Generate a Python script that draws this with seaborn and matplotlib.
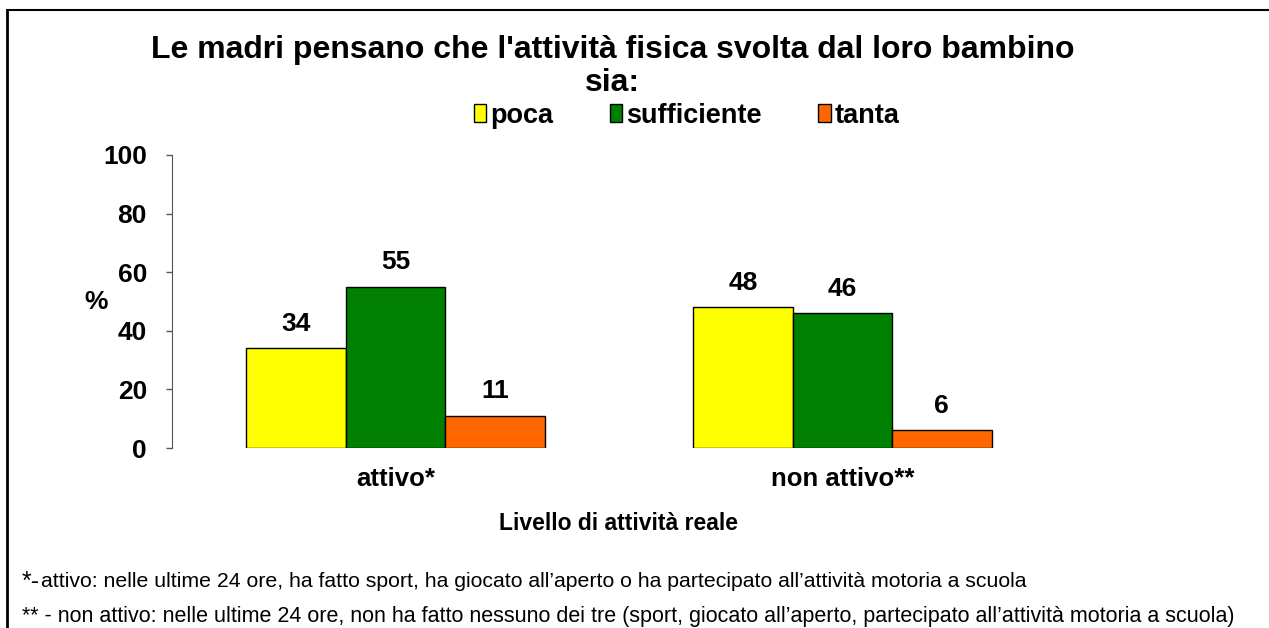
import matplotlib
matplotlib.use('Agg')
import matplotlib.pyplot as plt
import seaborn as sns
import pandas as pd
from matplotlib.lines import Line2D

# Data
livelli = ['attivo*', 'non attivo**']
giudizi = ['poca', 'sufficiente', 'tanta']
poca = [34, 48]
sufficiente = [55, 46]
tanta = [11, 6]
colori = ['#FFFF00', '#008000', '#FF6600']

df = pd.DataFrame({
    'livello': livelli * 3,
    'giudizio': ['poca'] * 2 + ['sufficiente'] * 2 + ['tanta'] * 2,
    'pct': poca + sufficiente + tanta,
})

sns.set_style('white')
plt.rcParams['font.family'] = ['Liberation Sans', 'DejaVu Sans']
plt.rcParams['text.color'] = 'black'
plt.rcParams['axes.labelcolor'] = 'black'
plt.rcParams['xtick.color'] = 'black'
plt.rcParams['ytick.color'] = 'black'

fig = plt.figure(figsize=(12.69, 6.28), dpi=100)
ax = fig.add_axes([0.1355, 0.2866, 0.7045, 0.4666])

sns.barplot(data=df, x='livello', y='pct', hue='giudizio', hue_order=giudizi,
            palette=colori, width=0.667, gap=0, edgecolor='black', linewidth=1,
            saturation=1, ax=ax, legend=False)

for cont in ax.containers:
    ax.bar_label(cont, fmt='%d', padding=9, fontsize=19, fontweight='bold')

ax.set_ylim(0, 100)
ax.set_xlim(-0.5, 1.5)
ax.set_yticks([0, 20, 40, 60, 80, 100])
ax.tick_params(axis='y', labelsize=19, length=4, width=1, color='#555555', direction='out', left=True, pad=14)
ax.tick_params(axis='x', labelsize=18.5, length=0, pad=14)
for lab in ax.get_yticklabels() + ax.get_xticklabels():
    lab.set_fontweight('bold')
sns.despine(ax=ax, bottom=True)
ax.spines['left'].set_color('#555555')

ax.set_ylabel('%', fontsize=19, fontweight='bold', rotation=0, va='center', ha='center')
ax.yaxis.set_label_coords(-0.085, 0.5)
ax.set_xlabel('Livello di attività reale', fontsize=16.5, fontweight='bold', labelpad=15)

fig.text(0.483, 0.92, "Le madri pensano che l'attività fisica svolta dal loro bambino",
         ha='center', va='center', fontsize=23, fontweight='bold')
fig.text(0.483, 0.868, 'sia:', ha='center', va='center', fontsize=23, fontweight='bold')

handles = [plt.Rectangle((0, 0), 1, 1, facecolor=c, edgecolor='black', linewidth=1) for c in colori]
fig.legend(handles, giudizi, loc='center', bbox_to_anchor=(0.541, 0.816), ncol=3,
           frameon=False, handlelength=0.45, handleheight=0.6, handletextpad=0.15,
           columnspacing=2.1, prop={'weight': 'bold', 'size': 19.5})

fig.text(0.017, 0.074, '*-', fontsize=18, ha='left', va='center')
fig.text(0.032, 0.074, "attivo: nelle ultime 24 ore, ha fatto sport, ha giocato all’aperto o ha partecipato all’attività motoria a scuola",
         fontsize=15.3, ha='left', va='center')
fig.text(0.017, 0.019, "** - non attivo: nelle ultime 24 ore, non ha fatto nessuno dei tre (sport, giocato all’aperto, partecipato all’attività motoria a scuola)",
         fontsize=15.5, ha='left', va='center')

# frame lines of the original chart area
fig.add_artist(Line2D([7 / 1269, 1], [1 - 10 / 628, 1 - 10 / 628], color='black', linewidth=1.5))
fig.add_artist(Line2D([7 / 1269, 7 / 1269], [0, 1 - 10 / 628], color='black', linewidth=2))

fig.savefig('out.png', dpi=100)
